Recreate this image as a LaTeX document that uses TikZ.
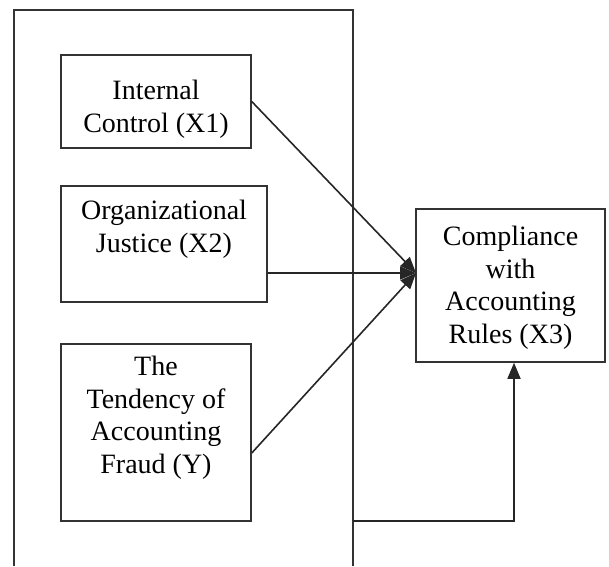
\documentclass[tikz,border=0pt]{standalone}
\usepackage{fontspec}
\setmainfont{Liberation Serif}
\usetikzlibrary{arrows.meta,calc,positioning}

\begin{document}
\begin{tikzpicture}[x=1pt,y=-1pt,
	box/.style={draw=black!80,line width=1.5pt,inner sep=0pt},
	txt/.style={align=center,font=\fontsize{28}{32.5}\selectfont,inner sep=0pt,anchor=base},
	link/.style={draw=black!85,line width=1.6pt,-{Triangle[length=16pt,width=13pt]}}]
	\useasboundingbox (0,0) rectangle (609,566);
	% outer frame, open at the bottom
	\draw[box] (14,566)--(14,10)--(353,10)--(353,566);
	% boxes
	\node[box,minimum width=190pt,minimum height=93pt] (x1) at (156,101.5) {};
	\node[box,minimum width=206pt,minimum height=116pt] (x2) at (164,244) {};
	\node[box,minimum width=190pt,minimum height=177pt] (y) at (156,432.5) {};
	\node[box,minimum width=189pt,minimum height=153pt] (x3) at (510.5,285.5) {};
	% texts (anchored at the last line)
	\node[txt] (x1t) at (156,132) {Internal\\Control (X1)};
	\node[txt] (x2t) at (164,252) {Organizational\\Justice (X2)};
	\node[txt] (yt) at (156,473) {The\\Tendency of\\Accounting\\Fraud (Y)};
	\node[txt] (x3t) at (510.5,343) {Compliance\\with\\Accounting\\Rules (X3)};
	% connectors
	\coordinate (meet) at (416,273);
	\coordinate (out) at (353,521);
	\coordinate (turn) at (514,521);
	\draw[link] (x1.east) -- (meet);
	\draw[link] (x2.east |- meet) -- (meet);
	\draw[link] ($(y.east)+(0,20.5)$) -- (meet);
	\draw[link] (out) -- (turn) -- (turn |- x3.south);
\end{tikzpicture}
\end{document}
